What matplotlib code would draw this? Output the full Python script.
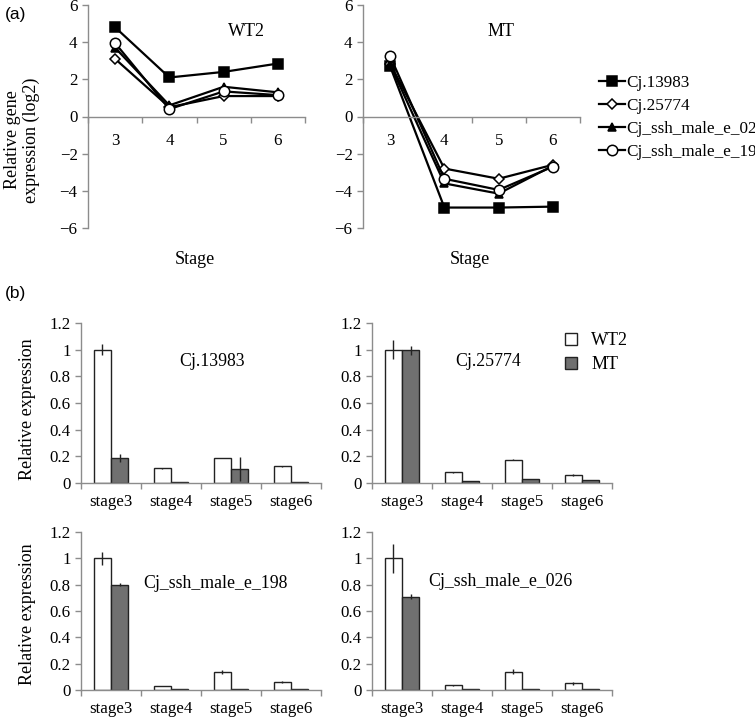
import matplotlib
matplotlib.use('agg')
import matplotlib.pyplot as plt
from matplotlib.lines import Line2D
import numpy as np

plt.rcParams['font.family'] = ['Liberation Serif', 'DejaVu Serif']
plt.rcParams['axes.unicode_minus'] = True

# ---- data (a): relative gene expression, log2 ----
stages = ['3', '4', '5', '6']
line_genes = ['Cj.13983', 'Cj.25774', 'Cj_ssh_male_e_026', 'Cj_ssh_male_e_198']
wt2_13983 = [4.8, 2.1, 2.4, 2.85]
wt2_25774 = [3.1, 0.5, 1.1, 1.1]
wt2_026 = [3.7, 0.6, 1.6, 1.3]
wt2_198 = [3.95, 0.4, 1.35, 1.15]
mt_13983 = [2.7, -4.9, -4.9, -4.85]
mt_25774 = [2.85, -2.8, -3.35, -2.6]
mt_026 = [2.8, -3.6, -4.15, -2.65]
mt_198 = [3.25, -3.35, -3.95, -2.7]

# ---- data (b): relative expression bars ----
bar_stages = ['stage3', 'stage4', 'stage5', 'stage6']
bar_genes = ['Cj.13983', 'Cj.25774', 'Cj_ssh_male_e_198', 'Cj_ssh_male_e_026']
wt2_bar = [[1.0, 0.11, 0.185, 0.125],
           [1.0, 0.08, 0.175, 0.06],
           [1.0, 0.03, 0.14, 0.06],
           [1.0, 0.035, 0.14, 0.05]]
wt2_err = [[0.04, 0.005, 0.0, 0.005],
           [0.07, 0.003, 0.003, 0.01],
           [0.05, 0.003, 0.015, 0.01],
           [0.11, 0.002, 0.02, 0.01]]
mt_bar = [[0.185, 0.005, 0.105, 0.005],
          [0.995, 0.015, 0.03, 0.02],
          [0.80, 0.005, 0.005, 0.005],
          [0.71, 0.005, 0.005, 0.005]]
mt_err = [[0.03, 0.0, 0.09, 0.0],
          [0.035, 0.0, 0.0, 0.0],
          [0.01, 0.0, 0.0, 0.0],
          [0.02, 0.0, 0.0, 0.0]]

W, H = 755, 719
fig = plt.figure(figsize=(W / 100, H / 100), dpi=100)
AXC = '#8c8c8c'
TICK_FS = 12.2


def px_axes(x0, x1, y_top, y_bot):
    return fig.add_axes([x0 / W, 1 - y_bot / H, (x1 - x0) / W, (y_bot - y_top) / H])


def style(ax):
    for s in ['top', 'right']:
        ax.spines[s].set_visible(False)
    for s in ['left', 'bottom']:
        ax.spines[s].set_color(AXC)
        ax.spines[s].set_linewidth(1)
    ax.tick_params(which='both', color=AXC, labelsize=TICK_FS, length=4, width=1)
    ax.tick_params(axis='x', which='major', length=0)
    x = np.arange(4)
    ax.set_xticks(x)
    ax.set_xticks(np.arange(5) - 0.5, minor=True)
    ax.set_xlim(-0.5, 3.5)


# ---- panel (a) ----
series_specs = [
    dict(marker='s', mfc='black', ms=7),
    dict(marker='D', mfc='white', ms=5),
    dict(marker='^', mfc='black', ms=5.5),
    dict(marker='o', mfc='white', ms=7.5),
]
wt_series = [wt2_13983, wt2_25774, wt2_026, wt2_198]
mt_series = [mt_13983, mt_25774, mt_026, mt_198]

for (x0, x1), series, name, namex in [((88, 305), wt_series, 'WT2', 246),
                                        ((363, 580), mt_series, 'MT', 501)]:
    ax = px_axes(x0, x1, 5, 228)
    style(ax)
    ax.spines['bottom'].set_position(('data', 0))
    ax.set_ylim(-6, 6)
    ax.set_yticks([-6, -4, -2, 0, 2, 4, 6])
    ax.set_xticklabels(stages)
    ax.tick_params(axis='x', pad=12)
    x = np.arange(4)
    for vals, spec in zip(series, series_specs):
        ax.plot(x, vals, color='black', lw=1.6, mec='black', mew=1.1, **spec)
    fig.text(namex / W, 1 - 32 / H, name, fontsize=13, ha='center', va='center')
    fig.text(((x0 + x1) / 2 - 2) / W, 1 - 259 / H, 'Stage', fontsize=13,
             ha='center', va='center')

handles = [Line2D([], [], color='black', lw=1.6, mec='black', mew=1.1, **spec)
           for spec in series_specs]
fig.legend(handles, line_genes, loc='upper left',
           bbox_to_anchor=(599 / W, 1 - 75 / H), bbox_transform=fig.transFigure,
           frameon=False, fontsize=12.3, handlelength=1.5, handletextpad=0.1,
           labelspacing=0.4, borderpad=0, borderaxespad=0)

fig.text(22 / W, 1 - 140 / H, 'Relative gene\nexpression (log2)', fontsize=13,
         rotation=90, ha='center', va='center', linespacing=1.1)
fig.text(5 / W, 1 - 14 / H, '(a)', fontsize=12.5, family='Liberation Sans',
         ha='left', va='center')
fig.text(5 / W, 1 - 293 / H, '(b)', fontsize=12.5, family='Liberation Sans',
         ha='left', va='center')

# ---- panel (b) ----
bw = 0.29
positions = [((81, 321), (323, 483), (212, 362)),
             ((372, 612), (323, 483), (488, 362)),
             ((81, 321), (532, 690), (215, 583)),
             ((372, 612), (532, 690), (500, 582))]
for i, ((x0, x1), (yt, yb), (tx, ty)) in enumerate(positions):
    ax = px_axes(x0, x1, yt, yb)
    style(ax)
    ax.set_ylim(0, 1.2)
    ax.set_yticks([0, 0.2, 0.4, 0.6, 0.8, 1, 1.2])
    ax.set_yticklabels(['0', '0.2', '0.4', '0.6', '0.8', '1', '1.2'])
    ax.set_xticklabels(bar_stages)
    ax.tick_params(axis='x', pad=8)
    x = np.arange(4)
    ax.bar(x - bw / 2, wt2_bar[i], bw, color='white', edgecolor='#222222', lw=1,
           label='WT2', zorder=2)
    ax.bar(x + bw / 2, mt_bar[i], bw, color='#707070', edgecolor='#222222', lw=1,
           label='MT', zorder=2)
    ax.errorbar(x - bw / 2, wt2_bar[i], yerr=wt2_err[i], fmt='none',
                ecolor='#222222', elinewidth=1, capsize=0, zorder=3)
    ax.errorbar(x + bw / 2, mt_bar[i], yerr=mt_err[i], fmt='none',
                ecolor='#222222', elinewidth=1, capsize=0, zorder=3)
    fig.text(tx / W, 1 - ty / H, bar_genes[i], fontsize=12.8, ha='center', va='center')
    if i == 1:
        ax.legend(loc='upper left', bbox_to_anchor=(565 / W, 1 - 332 / H),
                  bbox_transform=fig.transFigure, frameon=False, fontsize=13,
                  handlelength=0.65, handleheight=0.65, handletextpad=0.8,
                  labelspacing=0.4, borderpad=0, borderaxespad=0)

fig.text(27 / W, 1 - 409 / H, 'Relative expression', fontsize=13, rotation=90,
         ha='center', va='center')
fig.text(27 / W, 1 - 614 / H, 'Relative expression', fontsize=13, rotation=90,
         ha='center', va='center')

fig.savefig('out.png', dpi=100)
